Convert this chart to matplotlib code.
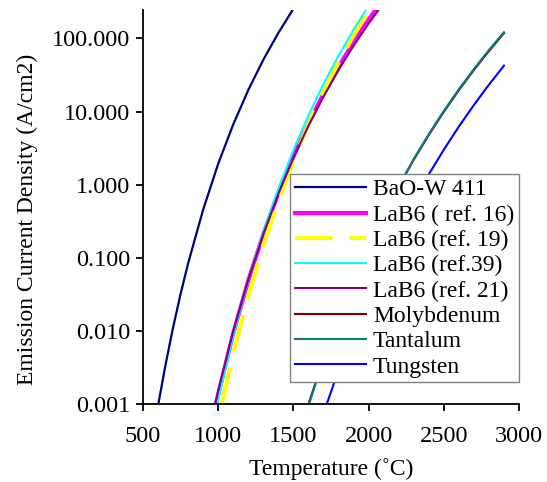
import numpy as np
import matplotlib
matplotlib.use("Agg")
import matplotlib.pyplot as plt
from matplotlib.ticker import FixedLocator, FixedFormatter, NullLocator

plt.rcParams['font.family'] = ['Liberation Serif', 'DejaVu Serif']

# values (temperature in C, current density in A/cm2)
bao_t = [602, 650, 700, 750, 800, 900, 1000, 1100, 1200, 1300, 1400, 1500]
bao_j = [0.001, 0.00345, 0.0111, 0.032, 0.0838, 0.456, 1.93, 6.67, 19.7, 51.2, 119, 255]

lab16_t = [985, 1000, 1100, 1200, 1300, 1400, 1500, 1600, 1700, 1800, 1900, 2000, 2100]
lab16_j = [0.001, 0.00136, 0.00925, 0.0488, 0.210, 0.764, 2.42, 6.83, 17.4, 40.8, 88.9, 181, 349]

lab19_t = [1023, 1100, 1200, 1300, 1400, 1500, 1600, 1700, 1800, 1900, 2000, 2100]
lab19_j = [0.001, 0.00488, 0.0301, 0.149, 0.611, 2.15, 6.68, 18.6, 47.1, 110, 239, 490]

lab39_t = [994, 1000, 1100, 1200, 1300, 1400, 1500, 1600, 1700, 1800, 1900, 2000]
lab39_j = [0.001, 0.00114, 0.00853, 0.0491, 0.228, 0.889, 2.99, 8.89, 23.8, 58.2, 132, 279]

lab21_t = [980, 1000, 1100, 1200, 1300, 1400, 1500, 1600, 1700, 1800, 1900, 2000, 2100]
lab21_j = [0.001, 0.00151, 0.00982, 0.0501, 0.210, 0.746, 2.31, 6.40, 16.0, 37.0, 79.3, 160, 305]

mo_t = [1600, 1700, 1800, 1900, 2000, 2100, 2200, 2300, 2400, 2500, 2600, 2700, 2800, 2900]
mo_j = [0.001, 0.0041, 0.0149, 0.0482, 0.140, 0.378, 0.94, 2.19, 4.78, 9.9, 19.6, 37.0, 67.2, 118]

ta_t = [1605, 1700, 1800, 1900, 2000, 2100, 2200, 2300, 2400, 2500, 2600, 2700, 2800, 2900]
ta_j = [0.001, 0.00415, 0.0151, 0.0489, 0.143, 0.385, 0.959, 2.24, 4.91, 10.2, 20.2, 38.2, 69.5, 122]

w_t = [1722, 1800, 1900, 2000, 2100, 2200, 2300, 2400, 2500, 2600, 2700, 2800, 2900]
w_j = [0.001, 0.00289, 0.0101, 0.0319, 0.0918, 0.243, 0.598, 1.38, 3.01, 6.23, 12.3, 23.3, 42.5]

x_ticks = [500, 1000, 1500, 2000, 2500, 3000]
y_ticks = [0.001, 0.01, 0.1, 1, 10, 100]
y_labels = ["0.001", "0.010", "0.100", "1.000", "10.000", "100.000"]

fig = plt.figure(figsize=(5.47, 4.82), dpi=100)
ax = fig.add_axes([0.2614, 0.1618, 0.6874, 0.8174])

ax.plot(bao_t, bao_j, color="#000080", lw=1.6, label="BaO-W 411")
ax.plot(lab16_t, lab16_j, color="#FF00FF", lw=3, label="LaB6 ( ref. 16)")
ax.plot(lab19_t, lab19_j, color="#FFFF00", lw=3, ls=(0, (9, 4)), label="LaB6 (ref. 19)")
ax.plot(lab39_t, lab39_j, color="#00FFFF", lw=1.5, label="LaB6 (ref.39)")
ax.plot(lab21_t, lab21_j, color="#800080", lw=1.5, label="LaB6 (ref. 21)")
ax.plot(mo_t, mo_j, color="#800000", lw=1.5, label="Molybdenum")
ax.plot(ta_t, ta_j, color="#008080", lw=1.5, label="Tantalum")
ax.plot(w_t, w_j, color="#0000FF", lw=1.5, label="Tungsten")

ax.set_yscale("log")
ax.set_xlim(500, 3000)
ax.set_ylim(0.001, 245)
ax.xaxis.set_major_locator(FixedLocator(x_ticks))
ax.yaxis.set_major_locator(FixedLocator(y_ticks))
ax.yaxis.set_major_formatter(FixedFormatter(y_labels))
ax.yaxis.set_minor_locator(NullLocator())

for s in ["top", "right"]:
    ax.spines[s].set_visible(False)
for s in ["left", "bottom"]:
    ax.spines[s].set_linewidth(1.3)
ax.tick_params(direction="out", length=5, width=1.3, labelsize=17.5)
ax.tick_params(axis="x", pad=11)
ax.tick_params(axis="y", pad=4)

ax.set_xlabel("Temperature (˚C)", fontsize=17, labelpad=7.5)
ax.set_ylabel("Emission Current Density (A/cm2)", fontsize=17)
ax.yaxis.set_label_coords(-0.279, 0.4695)

leg = ax.legend(loc="lower right", bbox_to_anchor=(1.0, 0.055), fontsize=17,
                frameon=True, fancybox=False, framealpha=1, edgecolor="#808080",
                handlelength=3.0, handletextpad=0.3, labelspacing=0.16,
                borderpad=0.2, borderaxespad=0)
leg.get_frame().set_linewidth(1)

fig.savefig("out.png", dpi=100)
